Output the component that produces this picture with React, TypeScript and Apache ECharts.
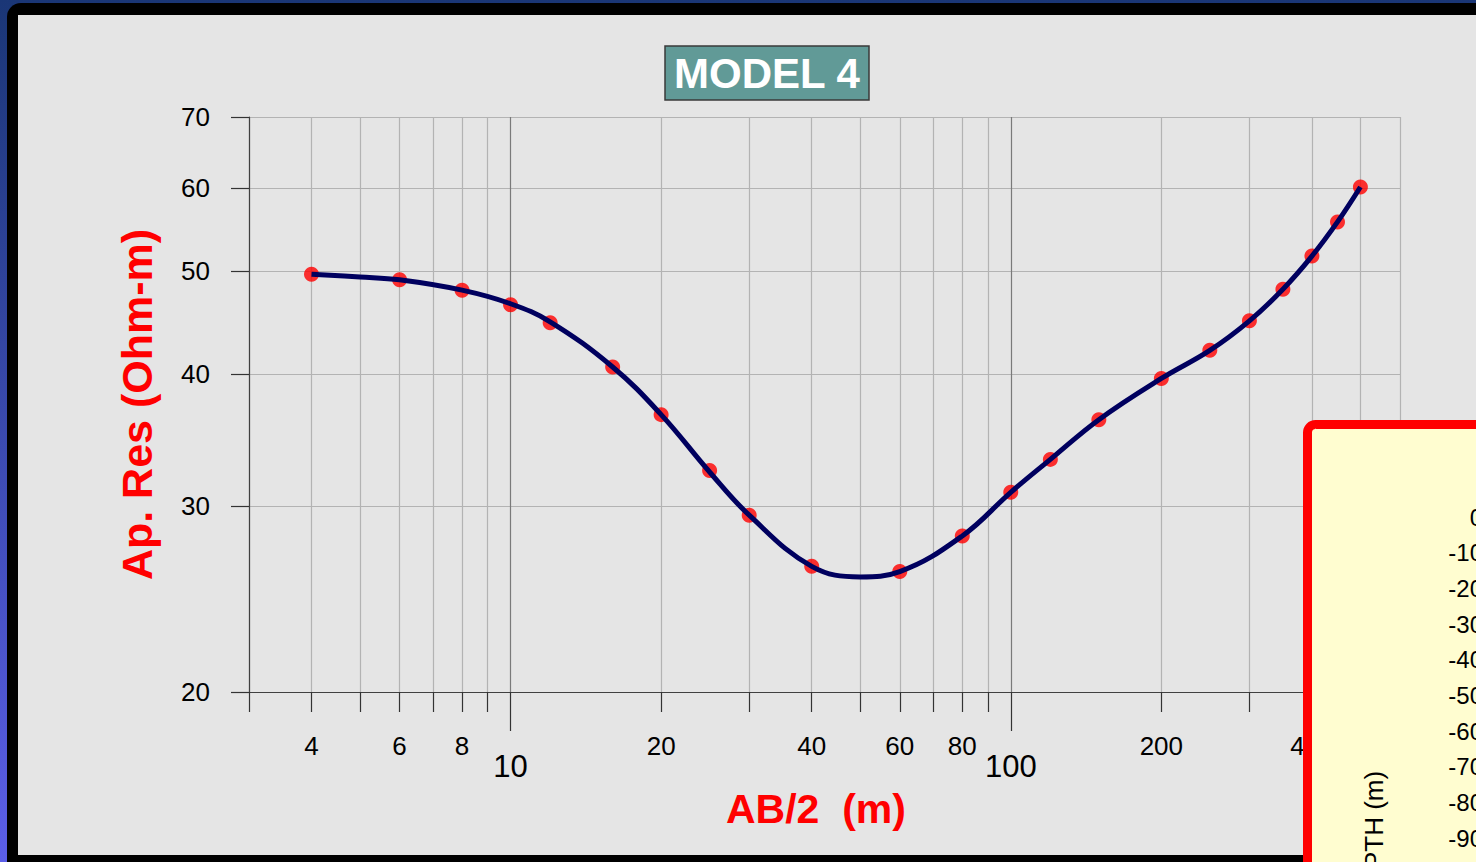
import React, { useEffect, useRef } from 'react';
import * as echarts from 'echarts';

// Observed apparent resistivity (red dots)
const obsAB2 = [4, 6, 8, 10, 12, 16, 20, 25, 30, 40, 60, 80, 100, 120, 150, 200, 250, 300, 350, 400, 450, 500];
const obsRes = [49.7, 49.1, 48.0, 46.5, 44.7, 40.6, 36.6, 32.4, 29.4, 26.3, 26.0, 28.1, 30.9, 33.2, 36.2, 39.6, 42.1, 44.9, 48.1, 51.7, 55.7, 60.1];

// Model response curve (navy line)
const modelAB2 = [4, 5, 6, 8, 10, 12, 16, 20, 25, 30, 40, 50, 60, 80, 100, 120, 150, 200, 250, 300, 350, 400, 450, 500];
const modelRes = [49.7, 49.4, 49.1, 48.0, 46.6, 44.8, 40.6, 36.6, 32.3, 29.4, 26.3, 25.7, 26.0, 28.1, 30.9, 33.2, 36.2, 39.6, 42.1, 44.9, 48.1, 51.7, 55.7, 60.1];

// Axis ticks / labels
const xMin = 3;
const xMax = 600;
const yMin = 20;
const yMax = 70;
const xMinorTicks = [3, 4, 5, 6, 7, 8, 9, 20, 30, 40, 50, 60, 70, 80, 90, 200, 300, 400, 500, 600];
const xMinorLabels = [4, 6, 8, 20, 40, 60, 80, 200, 400];
const xMajorTicks = [10, 100];
const yTicks = [20, 30, 40, 50, 60, 70];

// Inset (depth panel) axis
const depthMin = -180;
const depthMax = 0;
const depthStep = 10;

const FONT = 'Liberation Sans, Arial, Helvetica, sans-serif';
const lg = (v: number) => Math.log10(v);
const eps = 1e-9;
const clampTick = (v: number, lo: number, hi: number) =>
  Math.min(Math.max(lg(v), lg(lo) + eps), lg(hi) - eps);

export default function App() {
  const ref = useRef<HTMLDivElement>(null);

  useEffect(() => {
    if (!ref.current) return;
    const chart = echarts.init(ref.current, null, { renderer: 'svg' });
    const fmt = (v: number) => String(Math.round(Math.pow(10, v)));

    const option: any = {
      animation: false,
      textStyle: { fontFamily: FONT },
      title: {
        text: 'MODEL 4',
        left: 665,
        top: 46,
        padding: [6, 9, 6, 9],
        backgroundColor: '#619a97',
        borderColor: '#3a3a3a',
        borderWidth: 1.5,
        textStyle: { color: '#ffffff', fontSize: 42, fontWeight: 'bold', fontFamily: FONT },
      },
      graphic: [
        {
          type: 'rect',
          z: -20,
          silent: true,
          shape: { x: 0, y: 0, width: 1476, height: 862 },
          style: {
            fill: new echarts.graphic.LinearGradient(0, 0, 0, 1, [
              { offset: 0, color: '#1a3676' },
              { offset: 1, color: '#5b5ee8' },
            ]),
          },
        },
        {
          type: 'rect',
          z: -19,
          silent: true,
          shape: { x: 7, y: 3, width: 1520, height: 900, r: 14 },
          style: { fill: '#000000' },
        },
        {
          type: 'rect',
          z: -18,
          silent: true,
          shape: { x: 18, y: 15, width: 1500, height: 840 },
          style: { fill: '#e5e5e5' },
        },
        {
          type: 'rect',
          z: 50,
          silent: true,
          shape: { x: 1307.5, y: 424.5, width: 400, height: 600, r: 8 },
          style: { fill: '#fffdd0', stroke: '#ff0000', lineWidth: 9 },
        },
      ],
      grid: [
        { left: 249, top: 117, width: 1151, height: 575, outerBoundsMode: 'none' },
        { left: 1491, top: 517, width: 200, height: 642, outerBoundsMode: 'none' },
      ],
      xAxis: [
        { type: 'log', logBase: 10, gridIndex: 0, position: 'bottom', min: xMin, max: xMax, show: false },
        {
          type: 'value',
          gridIndex: 0,
          position: 'bottom',
          offset: 0,
          min: lg(xMin),
          max: lg(xMax),
          z: 1,
          name: 'AB/2  (m)',
          nameLocation: 'middle',
          nameGap: 96,
          nameMoveOverlap: false,
          nameTextStyle: { color: '#ff0000', fontSize: 41, fontWeight: 'bold', fontFamily: FONT, padding: [0, 17, 0, 0] },
          axisLine: { show: true, onZero: false, lineStyle: { color: '#404040', width: 1.2 } },
          axisTick: {
            show: true,
            length: 20,
            customValues: xMinorTicks.map((v) => clampTick(v, xMin, xMax)),
            lineStyle: { color: '#333333', width: 1.2 },
          },
          splitLine: { show: true, lineStyle: { color: '#b3b3b3', width: 1.2 } },
          axisLabel: {
            customValues: xMinorLabels.map(lg),
            formatter: fmt,
            margin: 41,
            fontSize: 26,
            color: '#000000',
            fontFamily: FONT,
          },
        },
        {
          type: 'value',
          gridIndex: 0,
          position: 'bottom',
          offset: 0,
          min: lg(xMin),
          max: lg(xMax),
          z: 1,
          axisLine: { show: false, onZero: false },
          axisTick: {
            show: true,
            length: 39,
            customValues: xMajorTicks.map(lg),
            lineStyle: { color: '#333333', width: 1.2 },
          },
          splitLine: { show: true, lineStyle: { color: '#7a7a7a', width: 1.2 } },
          axisLabel: {
            customValues: xMajorTicks.map(lg),
            formatter: fmt,
            margin: 59,
            fontSize: 31,
            color: '#000000',
            fontFamily: FONT,
          },
        },
        { type: 'value', gridIndex: 1, position: 'bottom', min: 0, max: 1, show: false },
      ],
      yAxis: [
        { type: 'log', logBase: 10, gridIndex: 0, position: 'left', min: yMin, max: yMax, show: false },
        {
          type: 'value',
          gridIndex: 0,
          position: 'left',
          offset: 0,
          min: lg(yMin),
          max: lg(yMax),
          z: 1,
          name: 'Ap. Res (Ohm-m)',
          nameLocation: 'middle',
          nameGap: 91,
          nameMoveOverlap: false,
          nameTextStyle: { color: '#ff0000', fontSize: 43, fontWeight: 'bold', fontFamily: FONT },
          axisLine: { show: true, onZero: false, lineStyle: { color: '#404040', width: 1.2 } },
          axisTick: {
            show: true,
            length: 18,
            customValues: yTicks.map((v) => clampTick(v, yMin, yMax)),
            lineStyle: { color: '#333333', width: 1.2 },
          },
          splitLine: { show: true, lineStyle: { color: '#b3b3b3', width: 1.2 } },
          axisLabel: {
            customValues: yTicks.map((v) => clampTick(v, yMin, yMax)),
            formatter: fmt,
            margin: 39,
            fontSize: 26,
            color: '#000000',
            fontFamily: FONT,
          },
        },
        {
          type: 'value',
          gridIndex: 1,
          position: 'left',
          min: depthMin,
          max: depthMax,
          interval: depthStep,
          z: 60,
          name: 'DEPTH (m)',
          nameLocation: 'middle',
          nameGap: 104,
          nameMoveOverlap: false,
          nameTextStyle: { color: '#000000', fontSize: 26, fontFamily: FONT },
          axisLine: { show: false },
          axisTick: { show: false },
          splitLine: { show: false },
          axisLabel: { margin: 8, fontSize: 24, color: '#000000', fontFamily: FONT },
        },
      ],
      series: [
        {
          type: 'scatter',
          name: 'Observed',
          xAxisIndex: 0,
          yAxisIndex: 0,
          data: obsAB2.map((x, i) => [x, obsRes[i]]),
          symbol: 'circle',
          symbolSize: 15,
          itemStyle: { color: '#ff0000' },
          z: 3,
        },
        {
          type: 'line',
          name: 'Model',
          xAxisIndex: 0,
          yAxisIndex: 0,
          data: modelAB2.map((x, i) => [x, modelRes[i]]),
          smooth: 0.4,
          symbol: 'none',
          lineStyle: { color: '#00005f', width: 5 },
          z: 4,
        },
      ],
    };

    chart.setOption(option);
    return () => chart.dispose();
  }, []);

  return (
    <div
      ref={ref}
      style={{ position: 'absolute', left: 0, top: 0, width: 1476, height: 862 }}
    />
  );
}
